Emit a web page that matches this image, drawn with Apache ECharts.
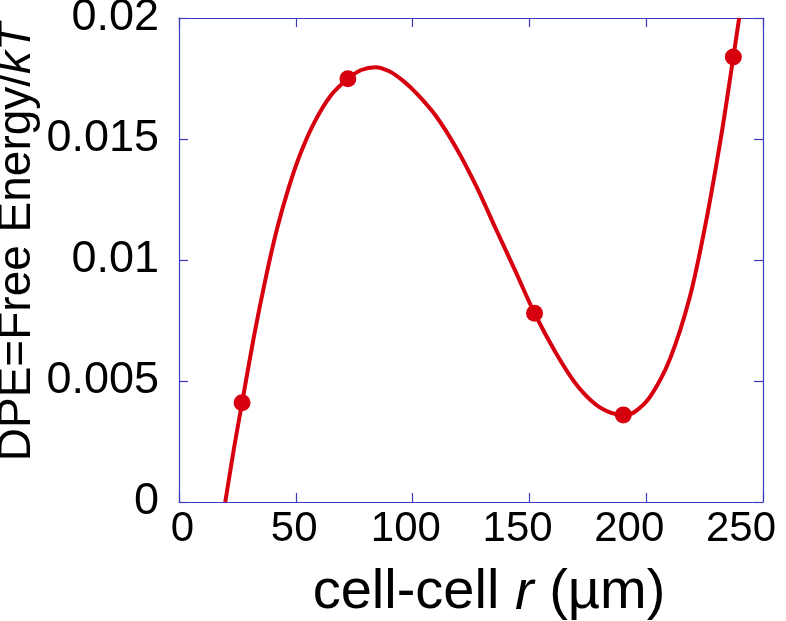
<!DOCTYPE html>
<html>
<head>
<meta charset="utf-8">
<script src="https://cdn.jsdelivr.net/npm/echarts@6/dist/echarts.min.js"></script>
<style>
html,body{margin:0;padding:0;background:#fff;}
#chart{width:786px;height:621px;}
</style>
</head>
<body>
<div id="chart"></div>
<script>
// Fitted curve (r in µm, DPE in kT)
const curveR = [19.8, 23.5, 27.0, 32.0, 37.0, 42.0, 47.0, 52.0, 58.0, 65.0, 72.3, 78.0, 84.0, 90.0, 96.0, 102.0, 110.0, 118.8, 127.3, 135.8, 144.2, 152.2, 161.1, 169.6, 178.0, 185.0, 190.2, 195.0, 201.7, 210.2, 218.7, 225.4, 232.2, 237.3, 239.8];
const curveV = [0, 0.0022, 0.0041, 0.0068, 0.0092, 0.0113, 0.0130, 0.0144, 0.0157, 0.0168, 0.01749, 0.01785, 0.01797, 0.0178, 0.0174, 0.01685, 0.01595, 0.01461, 0.01304, 0.01125, 0.00950, 0.0078, 0.0062, 0.00492, 0.00406, 0.00368, 0.0036, 0.00372, 0.00435, 0.00592, 0.00848, 0.01148, 0.01518, 0.01839, 0.02];
// Data points (markers)
const pointR = [27.0, 72.3, 152.2, 190.2, 237.3];
const pointV = [0.00410, 0.01749, 0.00780, 0.00360, 0.01839];
// Axis ticks
const xTicks = [0, 50, 100, 150, 200, 250];
const yTicks = [0, 0.005, 0.01, 0.015, 0.02];
// Axis titles
const xTitle = '{n|cell-cell }{i|r}{n| (µm)}';
const yTitle = '{n|DPE=Free Energy/}{i|kT}';

const frameColor = '#3b3bc0';
const red = '#d7000f';
const font = 'Liberation Sans, Arial, Helvetica, sans-serif';

const rich = {};
xTicks.forEach((v, i) => {
  const s = 3.5 - 25.5 * (v / 250);
  rich['t' + i] = {
    fontSize: 42, fontFamily: font, color: '#000',
    padding: s >= 0 ? [0, 0, 0, 2 * s] : [0, -2 * s, 0, 0]
  };
});

const chart = echarts.init(document.getElementById('chart'), null, {renderer: 'canvas'});
const axisCommon = {
  type: 'value',
  axisLine: {show: true, onZero: false, lineStyle: {color: frameColor, width: 1.2}},
  axisTick: {show: true, inside: true, length: 9, lineStyle: {color: frameColor, width: 1.2}},
  splitLine: {show: false}
};
chart.setOption({
  animation: false,
  backgroundColor: '#fff',
  grid: {left: 179, right: 23, top: 18, bottom: 119, containLabel: false, outerBoundsMode: 'none'},
  graphic: [{
    type: 'text',
    x: 17, y: 242,
    rotation: Math.PI / 2,
    style: {
      text: yTitle,
      align: 'center',
      verticalAlign: 'middle',
      rich: {
        n: {fontSize: 46, fontFamily: font, fill: '#000'},
        i: {fontSize: 46, fontFamily: font, fontStyle: 'italic', fill: '#000'}
      }
    }
  }],
  xAxis: [
    Object.assign({}, axisCommon, {
      min: 0, max: 250, interval: 50,
      axisLabel: {
        margin: 6,
        formatter: function (v) { const i = xTicks.indexOf(v); return '{t' + i + '|' + v + '}'; },
        rich: rich
      },
      name: xTitle,
      nameLocation: 'middle',
      nameGap: 63,
      nameTextStyle: {
        padding: [0, 0, 0, 36],
        rich: {
          n: {fontSize: 56, fontFamily: font, color: '#000'},
          i: {fontSize: 56, fontFamily: font, fontStyle: 'italic', color: '#000'}
        }
      }
    }),
    Object.assign({}, axisCommon, {
      position: 'top', min: 0, max: 250, interval: 50,
      axisLabel: {show: false}
    })
  ],
  yAxis: [
    Object.assign({}, axisCommon, {
      min: 0, max: 0.02, interval: 0.005,
      axisLabel: {
        margin: 20, fontSize: 45, fontFamily: font, color: '#000',
        formatter: function (v) { return String(+v.toFixed(3)); }
      }
    }),
    Object.assign({}, axisCommon, {
      position: 'right', min: 0, max: 0.02, interval: 0.005,
      axisLabel: {show: false}
    })
  ],
  series: [
    {
      type: 'line',
      data: curveR.map((r, i) => [r, curveV[i]]),
      smooth: 0.3,
      showSymbol: false,
      clip: true,
      lineStyle: {color: red, width: 4},
      z: 2
    },
    {
      type: 'scatter',
      data: pointR.map((r, i) => [r, pointV[i]]),
      symbol: 'circle',
      symbolSize: 17,
      itemStyle: {color: red, opacity: 1},
      z: 3
    }
  ]
});
</script>
</body>
</html>
